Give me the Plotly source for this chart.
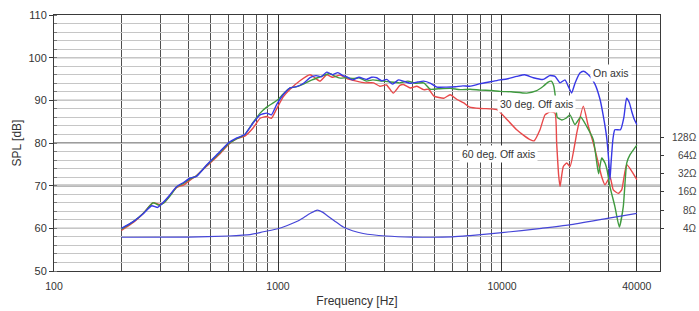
import math
import plotly.graph_objects as go

# ---------------- data ----------------
# (frequency Hz, SPL dB)
on_axis = [
    (200, 60.0), (225, 61.5), (250, 63.4), (273, 65.3), (290, 64.9), (302, 65.7), (324, 67.4),
    (353, 69.8), (380, 70.8), (405, 71.8), (433, 72.2), (481, 74.9), (551, 78.0), (600, 80.0),
    (655, 81.2), (711, 82.0), (774, 84.7), (832, 86.6), (890, 87.0), (935, 86.6), (986, 89.0),
    (1055, 91.3), (1132, 92.9), (1210, 93.2), (1300, 94.0), (1390, 95.3), (1480, 95.8), (1560, 95.5),
    (1650, 96.6), (1750, 96.0), (1850, 96.5), (1950, 95.8), (2030, 95.5), (2150, 94.8), (2300, 95.4),
    (2480, 94.9), (2620, 95.4), (2760, 95.3), (2900, 94.6), (3060, 94.9), (3250, 93.8), (3450, 94.8),
    (3630, 94.5), (3900, 94.0), (4200, 94.3), (4470, 94.5), (4800, 94.0), (5120, 93.1), (5660, 93.1),
    (6200, 93.2), (6690, 93.4), (7170, 93.3), (8000, 93.9), (9000, 94.4), (9800, 94.8), (10500, 95.0),
    (11630, 95.6), (12630, 96.0), (13800, 95.3), (15290, 94.9), (16320, 95.8), (17240, 95.6),
    (18160, 94.1), (19100, 94.8), (19800, 93.2), (20450, 91.7), (21180, 94.0), (22280, 96.4),
    (23100, 96.8), (24000, 96.3), (24700, 95.6), (26000, 93.8), (27400, 90.2), (28300, 86.5),
    (29300, 81.5), (30000, 75.5), (30340, 71.4), (30700, 75.5), (31300, 81.0), (31900, 83.1),
    (33800, 83.1), (35000, 86.0), (36000, 90.5), (37000, 89.5), (37950, 87.4), (39000, 85.5),
    (40000, 84.3),
]

off_axis_30 = [
    (200, 59.8), (225, 61.5), (250, 63.5), (277, 66.0), (295, 65.4), (310, 66.0), (330, 67.6),
    (353, 69.7), (380, 70.6), (405, 71.6), (433, 72.3), (481, 74.8), (551, 77.8), (600, 79.8),
    (655, 81.0), (711, 82.0), (774, 84.8), (832, 87.0), (890, 88.4), (952, 89.4), (1000, 90.2),
    (1055, 91.5), (1132, 92.9), (1210, 93.2), (1320, 94.0), (1420, 94.8), (1540, 95.5), (1700, 96.3),
    (1800, 95.6), (1895, 95.2), (2030, 95.3), (2170, 95.1), (2300, 95.3), (2480, 94.5), (2650, 94.8),
    (2850, 94.6), (3160, 94.3), (3500, 94.1), (3800, 94.5), (4100, 94.0), (4470, 94.1), (4780, 92.6),
    (5200, 92.7), (5870, 92.8), (6500, 92.5), (7200, 92.6), (8000, 92.4), (9000, 92.3), (9800, 92.1),
    (11000, 92.0), (12900, 91.7), (14200, 92.2), (15290, 93.3), (16000, 94.2), (16600, 94.5),
    (17000, 93.5), (17300, 91.0), (17650, 86.0), (18500, 85.4), (19300, 85.8), (20120, 86.6),
    (21180, 84.3), (22450, 86.1), (23880, 83.9), (25560, 80.8), (26480, 75.5), (27000, 72.8),
    (27860, 76.5), (28830, 75.3), (29500, 73.5), (30340, 69.8), (31920, 65.1), (33400, 60.3),
    (34790, 65.1), (36040, 75.3), (37250, 77.2), (40000, 79.5),
]

off_axis_60 = [
    (200, 59.5), (225, 61.3), (250, 63.5), (277, 66.0), (295, 65.6), (310, 66.0), (330, 67.8),
    (353, 69.6), (380, 70.2), (405, 71.3), (433, 72.4), (481, 74.6), (551, 77.5), (600, 79.6),
    (655, 81.0), (711, 81.6), (774, 83.5), (832, 85.8), (890, 86.2), (935, 85.8), (986, 88.0),
    (1055, 90.8), (1132, 92.6), (1253, 94.6), (1390, 96.0), (1460, 95.3), (1540, 94.5), (1650, 96.0),
    (1750, 95.4), (1895, 95.9), (2030, 95.1), (2240, 94.5), (2450, 94.1), (2670, 94.1), (2850, 93.3),
    (3050, 93.6), (3270, 91.7), (3500, 93.5), (3630, 93.7), (3900, 92.9), (4170, 93.3), (4470, 92.5),
    (4700, 92.6), (4970, 91.0), (5500, 90.5), (5870, 91.3), (6300, 90.2), (6750, 89.4), (7170, 88.4),
    (8000, 88.1), (9000, 88.0), (9500, 87.8), (10100, 86.5), (11630, 83.1), (12500, 81.8),
    (13340, 80.8), (13900, 80.5), (14780, 83.1), (15560, 86.6), (16400, 87.3), (17240, 87.0),
    (17540, 80.0), (17900, 72.5), (18160, 69.8), (18780, 74.5), (19450, 75.3), (20120, 74.5),
    (21180, 80.0), (21560, 82.3), (23070, 88.6), (24270, 84.0), (25560, 80.0), (26480, 76.8),
    (27860, 72.1), (28830, 70.2), (30340, 72.1), (31410, 69.0), (33050, 68.2), (34220, 69.0),
    (36040, 74.9), (40000, 71.4),
]

# (frequency Hz, impedance Ohm)
impedance = [
    (200, 2.85), (400, 2.87), (600, 2.99), (750, 3.15), (860, 3.51), (1000, 3.94), (1100, 4.45),
    (1212, 5.18), (1300, 6.0), (1390, 7.0), (1497, 8.0), (1580, 7.4), (1650, 6.6), (1800, 5.2),
    (1956, 4.2), (2150, 3.65), (2400, 3.29), (3030, 2.99), (4000, 2.87), (6000, 2.89), (7200, 3.04),
    (10000, 3.40), (15000, 4.0), (20000, 4.55), (30000, 5.9), (40000, 7.05),
]

x_tick_vals = [100, 1000, 10000, 40000]
x_tick_text = ["100", "1000", "10000", "40000"]
x_grid_minor = [200, 300, 400, 500, 600, 700, 800, 900,
                2000, 3000, 4000, 5000, 6000, 7000, 8000, 9000,
                20000, 30000]
y_tick_vals = [50, 60, 70, 80, 90, 100, 110]
y_grid_dark = [60, 80, 90, 100]
y_grid_gray = [70]
ohm_tick_vals = [4, 8, 16, 32, 64, 128]
ohm_tick_text = ["4Ω", "8Ω", "16Ω", "32Ω", "64Ω", "128Ω"]
curve_labels = [("On axis", 30700, 96.5), ("30 deg. Off axis", 14200, 89.2),
                ("60 deg. Off axis", 9600, 77.5)]

FONT = "Arial, Liberation Sans, sans-serif"


def split(pairs):
    return [p[0] for p in pairs], [p[1] for p in pairs]


fig = go.Figure()

fz, zz = split(impedance)
fig.add_trace(go.Scatter(x=fz, y=zz, yaxis="y2", mode="lines",
                         line=dict(color="#4646d8", width=1.2, shape="spline", smoothing=0.6),
                         showlegend=False, hoverinfo="skip"))
for pairs, color in [(off_axis_60, "#e8494a"), (off_axis_30, "#3f9a3f"), (on_axis, "#3838e6")]:
    f, s = split(pairs)
    fig.add_trace(go.Scatter(x=f, y=s, mode="lines",
                             line=dict(color=color, width=1.4, shape="spline", smoothing=0.5),
                             showlegend=False, hoverinfo="skip"))

shapes = []
for v in y_grid_dark:
    shapes.append(dict(type="line", xref="paper", yref="y", x0=0, x1=1, y0=v, y1=v,
                       line=dict(color="#3a3a3a", width=1), layer="between"))
for v in y_grid_gray:
    shapes.append(dict(type="line", xref="paper", yref="y", x0=0, x1=1, y0=v, y1=v,
                       line=dict(color="#a0a0a0", width=2.2), layer="between"))

annotations = []
for txt, f, db in curve_labels:
    annotations.append(dict(text=txt, xref="x", yref="y", x=math.log10(f), y=db,
                            showarrow=False, bgcolor="white", borderpad=2,
                            font=dict(family=FONT, size=10.5, color="#333333")))
for v, t in zip(ohm_tick_vals, ohm_tick_text):
    annotations.append(dict(text=t, xref="paper", yref="y2", x=1.064, y=math.log10(v),
                            xanchor="right", showarrow=False,
                            font=dict(family=FONT, size=10, color="#444444")))

fig.update_layout(
    width=699, height=311, autosize=False,
    margin=dict(l=54, r=39, t=15, b=40, pad=0),
    paper_bgcolor="white", plot_bgcolor="white",
    font=dict(family=FONT, color="#333333"),
    shapes=shapes, annotations=annotations,
    xaxis=dict(type="log", range=[2, 4.7054], tickvals=x_tick_vals, ticktext=x_tick_text,
               showgrid=True, gridcolor="#333333", gridwidth=1,
               minor=dict(tickvals=x_grid_minor, showgrid=True, gridcolor="#505050",
                          gridwidth=1.2, ticks=""),
               showline=True, linecolor="#3a3a3a", linewidth=1, mirror=True,
               ticks="outside", ticklen=5, tickcolor="rgba(0,0,0,0)",
               tickfont=dict(size=10.5, color="#333333"), zeroline=False, automargin=False,
               title=dict(text="Frequency [Hz]", font=dict(size=12, color="#333333"), standoff=6)),
    yaxis=dict(range=[50, 110], tickvals=y_tick_vals,
               showgrid=False,
               minor=dict(dtick=2, showgrid=True, gridcolor="#c6c6c6", gridwidth=1,
                          ticks="inside", ticklen=3, tickcolor="#777777"),
               showline=True, linecolor="#3a3a3a", linewidth=1, mirror=True,
               ticks="outside", ticklen=4, tickcolor="#3a3a3a",
               tickfont=dict(size=11, color="#333333"), zeroline=False, automargin=False,
               title=dict(text="SPL [dB]", font=dict(size=12, color="#333333"), standoff=4)),
    yaxis2=dict(type="log", range=[-0.1012, 4.1186], overlaying="y", side="right",
                tickvals=ohm_tick_vals, showticklabels=False, ticks="outside", ticklen=3,
                tickcolor="#3a3a3a", showgrid=False, showline=False, zeroline=False,
                automargin=False),
)

fig.write_html("out.html", config={"displayModeBar": False},
               post_script="document.body.style.margin='0';document.body.style.padding='0';")
